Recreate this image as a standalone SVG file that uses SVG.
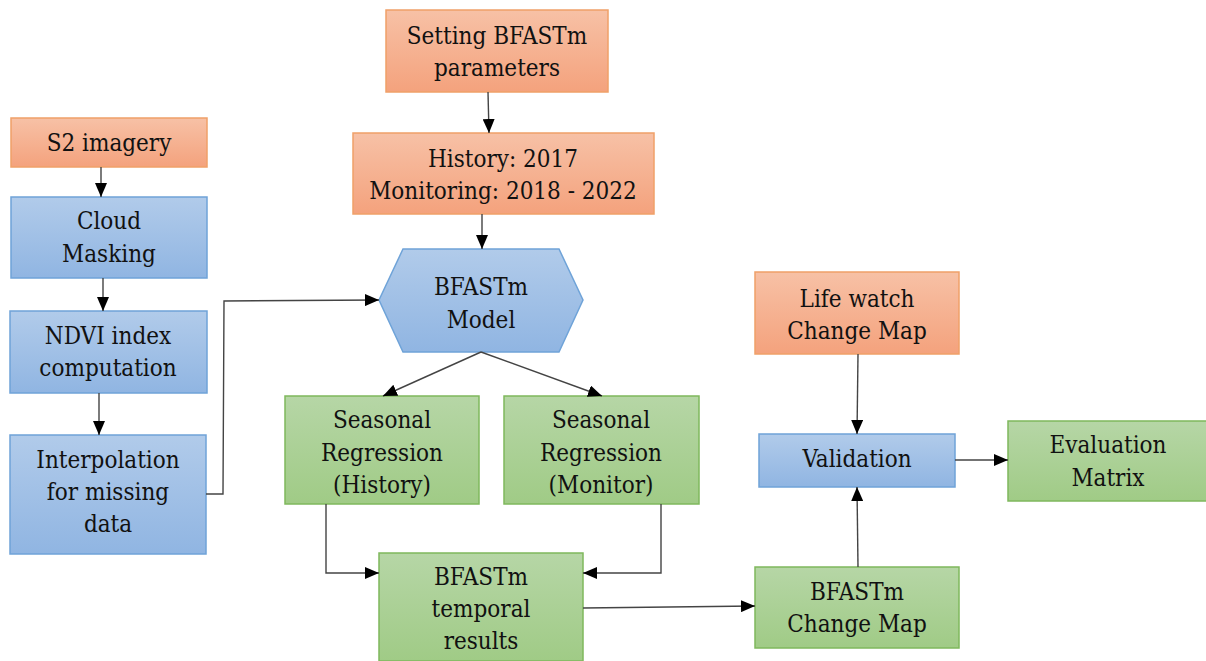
<svg xmlns="http://www.w3.org/2000/svg" width="1206" height="661" viewBox="0 0 1206 661">
<defs>
<linearGradient id="gO" x1="0" y1="0" x2="0" y2="1"><stop offset="0" stop-color="#f7c1a6"/><stop offset="1" stop-color="#f4a27d"/></linearGradient>
<linearGradient id="gB" x1="0" y1="0" x2="0" y2="1"><stop offset="0" stop-color="#b1cbea"/><stop offset="1" stop-color="#90b5e2"/></linearGradient>
<linearGradient id="gG" x1="0" y1="0" x2="0" y2="1"><stop offset="0" stop-color="#b6d6a6"/><stop offset="1" stop-color="#a0cb86"/></linearGradient>
<marker id="ah" viewBox="0 0 14 12" refX="14" refY="6" markerWidth="14" markerHeight="12" markerUnits="userSpaceOnUse" orient="auto"><path d="M0,0 L14,6 L0,12 Z" fill="#000"/></marker>
<style>
.o{fill:url(#gO);stroke:#f0a068;stroke-width:1.5}
.b{fill:url(#gB);stroke:#6fa3d8;stroke-width:1.5}
.g{fill:url(#gG);stroke:#7fb85c;stroke-width:1.5}
.t{font-size:24px;fill:#111;text-anchor:middle}
.c{fill:none;stroke:#444;stroke-width:1.4;marker-end:url(#ah)}
</style>
</defs>
<g class="t" font-family="DejaVu Serif Condensed, DejaVu Serif, serif" font-stretch="condensed">
<g id="n-s2"><rect class="o" x="11" y="118" width="196" height="49"/><text x="109" y="151">S2 imagery</text></g>
<g id="n-cloud"><rect class="b" x="11" y="197" width="196" height="81"/><text x="109" y="229">Cloud</text><text x="109" y="262">Masking</text></g>
<g id="n-ndvi"><rect class="b" x="10" y="311" width="197" height="82"/><text x="108" y="344">NDVI index</text><text x="108" y="376">computation</text></g>
<g id="n-interp"><rect class="b" x="10" y="435" width="196" height="119"/><text x="108" y="468">Interpolation</text><text x="108" y="500">for missing</text><text x="108" y="532">data</text></g>
<g id="n-setting"><rect class="o" x="386" y="10" width="222" height="82"/><text x="497" y="44">Setting BFASTm</text><text x="497" y="76">parameters</text></g>
<g id="n-history"><rect class="o" x="353" y="133" width="301" height="81"/><text x="503" y="167">History: 2017</text><text x="503" y="199">Monitoring: 2018  - 2022</text></g>
<g id="n-model"><polygon class="b" points="379,300 403,249 559,249 583,300 559,352 403,352"/><text x="481" y="295">BFASTm</text><text x="481" y="328">Model</text></g>
<g id="n-sh"><rect class="g" x="285" y="396" width="194" height="108"/><text x="382" y="428">Seasonal</text><text x="382" y="461">Regression</text><text x="382" y="493">(History)</text></g>
<g id="n-sm"><rect class="g" x="504" y="396" width="195" height="108"/><text x="601" y="428">Seasonal</text><text x="601" y="461">Regression</text><text x="601" y="493">(Monitor)</text></g>
<g id="n-temporal"><rect class="g" x="379" y="553" width="204" height="108"/><text x="481" y="585">BFASTm</text><text x="481" y="617">temporal</text><text x="481" y="649">results</text></g>
<g id="n-lifewatch"><rect class="o" x="755" y="272" width="204" height="82"/><text x="857" y="307">Life watch</text><text x="857" y="339">Change Map</text></g>
<g id="n-validation"><rect class="b" x="759" y="434" width="196" height="53"/><text x="857" y="467">Validation</text></g>
<g id="n-eval"><rect class="g" x="1008" y="421" width="199" height="80"/><text x="1108" y="453">Evaluation</text><text x="1108" y="486">Matrix</text></g>
<g id="n-changemap"><rect class="g" x="755" y="567" width="204" height="81"/><text x="857" y="600">BFASTm</text><text x="857" y="632">Change Map</text></g>
</g>
<g id="connectors">
<path class="c" d="M101,167 L101,197"/>
<path class="c" d="M103,278 L103,311"/>
<path class="c" d="M99,393 L99,435"/>
<path class="c" d="M206,494 L223,494 L224,301 L379,300"/>
<path class="c" d="M488,92 L489,133"/>
<path class="c" d="M482,214 L482,249"/>
<path class="c" d="M481,352 L383,396"/>
<path class="c" d="M481,352 L602,396"/>
<path class="c" d="M326,504 L326,573 L379,573"/>
<path class="c" d="M661,504 L661,573 L583,573"/>
<path class="c" d="M583,608 L755,606"/>
<path class="c" d="M858,354 L857,434"/>
<path class="c" d="M858,567 L857,487"/>
<path class="c" d="M955,460 L1008,460"/>
</g>
</svg>
